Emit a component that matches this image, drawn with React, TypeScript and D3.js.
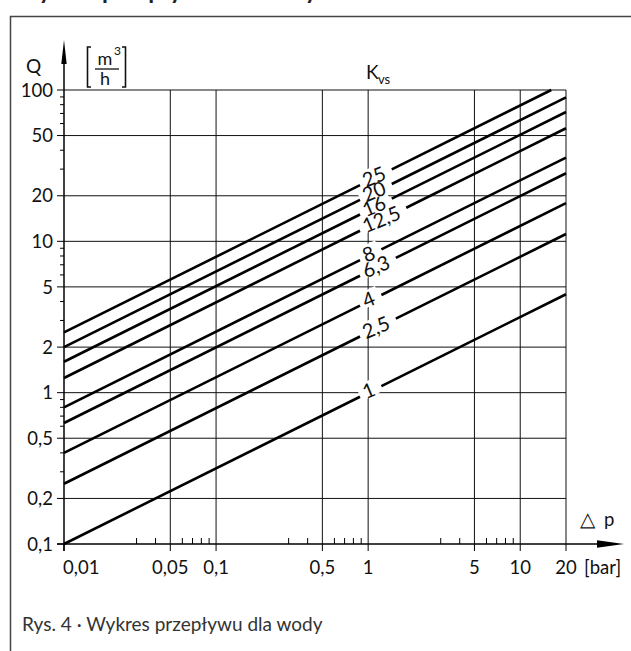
import React, { useEffect, useRef } from 'react';
import * as d3 from 'd3';

// Kvs lines, Q = Kvs * sqrt(dp)
const kvsValues = [1, 2.5, 4, 6.3, 8, 12.5, 16, 20, 25];
const kvsLabels = ['1', '2,5', '4', '6,3', '8', '12,5', '16', '20', '25'];

const xTicks = [0.01, 0.05, 0.1, 0.5, 1, 5, 10, 20];
const xTickLabels = ['0,01', '0,05', '0,1', '0,5', '1', '5', '10', '20'];
const yTicks = [0.1, 0.2, 0.5, 1, 2, 5, 10, 20, 50, 100];
const yTickLabels = ['0,1', '0,2', '0,5', '1', '2', '5', '10', '20', '50', '100'];
const minorSteps = [3, 4, 6, 7, 8, 9];
const decades = [0.01, 0.1, 1, 10, 100];

const FONT = 'Lato, "Noto Sans", sans-serif';

function App() {
  const ref = useRef<SVGSVGElement | null>(null);

  useEffect(() => {
    const svg = d3.select(ref.current);
    svg.selectAll('*').remove();

    const x = d3.scaleLog().domain([0.01, 20]).range([64, 566]);
    const y = d3.scaleLog().domain([0.1, 100]).range([544, 90]);
    const angle = (Math.atan2(y(10) - y(1), x(100) - x(1)) * 180) / Math.PI;
    const rad = (angle * Math.PI) / 180;

    // frame
    svg.append('path')
      .attr('d', 'M10.5,651 V16.5 H631')
      .attr('fill', 'none')
      .attr('stroke', '#444')
      .attr('stroke-width', 1.5);

    // heading, cut off at the top like the scan (only descenders show)
    svg.append('text')
      .attr('x', 14).attr('y', -1)
      .attr('font-family', FONT).attr('font-weight', 'bold').attr('font-size', 24)
      .attr('fill', '#222')
      .text('Wykres przepływu dla wody');

    const grid = svg.append('g').attr('stroke', '#111').attr('stroke-width', 1);
    yTicks.slice(1).forEach(v => {
      grid.append('line').attr('x1', 64).attr('x2', 566).attr('y1', y(v)).attr('y2', y(v));
    });
    xTicks.slice(1).forEach(v => {
      grid.append('line').attr('x1', x(v)).attr('x2', x(v)).attr('y1', 90).attr('y2', 544);
    });

    const labelG = svg.append('g');
    const bgG = svg.insert('g', () => labelG.node());
    const curveG = svg.insert('g', () => labelG.node());

    kvsValues.forEach((k, i) => {
      const x0 = 364;
      const dp0 = x.invert(x0);
      const y0 = y(k * Math.sqrt(dp0));
      const t = labelG.append('text')
        .attr('transform', `translate(${x0},${y0}) rotate(${angle * 0.85})`)
        .attr('dy', -3)
        .attr('dominant-baseline', 'central')
        .attr('font-family', FONT).attr('font-size', 20)
        .attr('fill', '#111')
        .text(kvsLabels[i]);
      const w = (t.node() as SVGTextElement).getComputedTextLength();
      const gapStart = x0 - 4;
      const gapEnd = x0 + w * Math.cos(rad) + 7;

      bgG.append('rect')
        .attr('transform', `translate(${x0},${y0}) rotate(${angle})`)
        .attr('x', -4).attr('y', -11)
        .attr('width', w + 10).attr('height', 16)
        .attr('fill', '#fff');

      const dpEnd = Math.min(20, Math.pow(100 / k, 2));
      const segs: [number, number][] = [[0.01, x.invert(gapStart)], [x.invert(gapEnd), dpEnd]];
      segs.forEach(([a, b]) => {
        if (b <= a) return;
        curveG.append('line')
          .attr('x1', x(a)).attr('y1', y(k * Math.sqrt(a)))
          .attr('x2', x(b)).attr('y2', y(k * Math.sqrt(b)))
          .attr('stroke', '#000').attr('stroke-width', 2.6);
      });
    });

    // axes
    const axis = svg.append('g').attr('stroke', '#000').attr('stroke-width', 1.5);
    axis.append('line').attr('x1', 64).attr('x2', 64).attr('y1', 551).attr('y2', 55);
    axis.append('line').attr('x1', 57).attr('x2', 605).attr('y1', 544).attr('y2', 544);
    svg.append('path').attr('d', 'M64,40 L61.3,64 L66.7,64 Z').attr('fill', '#000');
    svg.append('path').attr('d', 'M624,544 L597,540.3 L597,547.7 Z').attr('fill', '#000');

    const ticks = svg.append('g').attr('stroke', '#000').attr('stroke-width', 1);
    yTicks.forEach(v => {
      ticks.append('line').attr('x1', 57).attr('x2', 64).attr('y1', y(v)).attr('y2', y(v));
    });
    xTicks.forEach(v => {
      ticks.append('line').attr('x1', x(v)).attr('x2', x(v)).attr('y1', 544).attr('y2', 551);
    });
    decades.forEach(d => {
      minorSteps.forEach(m => {
        const v = d * m;
        if (v > 0.1 && v < 100) {
          ticks.append('line').attr('x1', 60).attr('x2', 64).attr('y1', y(v)).attr('y2', y(v));
        }
        if (v > 0.01 && v < 20) {
          ticks.append('line').attr('x1', x(v)).attr('x2', x(v)).attr('y1', 538).attr('y2', 544);
        }
      });
    });

    const txt = svg.append('g').attr('font-family', FONT).attr('font-size', 18.5).attr('fill', '#111');
    yTicks.forEach((v, i) => {
      txt.append('text').attr('x', 53).attr('y', y(v)).attr('dy', '0.36em')
        .attr('text-anchor', 'end').text(yTickLabels[i]);
    });
    xTicks.forEach((v, i) => {
      txt.append('text').attr('x', i === 0 ? 63 : x(v)).attr('y', 574)
        .attr('text-anchor', i === 0 ? 'start' : 'middle').text(xTickLabels[i]);
    });
    txt.append('text').attr('x', 584).attr('y', 574).text('[bar]');
    txt.append('text').attr('x', 580).attr('y', 526).attr('font-size', 20).text('△');
    txt.append('text').attr('x', 604).attr('y', 526).text('p');
    txt.append('text').attr('x', 26).attr('y', 73).attr('font-size', 19).text('Q');

    // unit [m3/h]
    const unit = svg.append('g').attr('font-family', FONT).attr('fill', '#111');
    unit.append('text').attr('x', 105).attr('y', 65).attr('text-anchor', 'middle').attr('font-size', 18).text('m');
    unit.append('text').attr('x', 114).attr('y', 55).attr('font-size', 12).text('3');
    unit.append('text').attr('x', 105).attr('y', 85).attr('text-anchor', 'middle').attr('font-size', 18).text('h');
    unit.append('line').attr('x1', 95).attr('x2', 119).attr('y1', 69).attr('y2', 69).attr('stroke', '#111').attr('stroke-width', 1.3);
    unit.append('path').attr('d', 'M91,47 H87.5 V87 H91').attr('fill', 'none').attr('stroke', '#111').attr('stroke-width', 1.6);
    unit.append('path').attr('d', 'M122,47 H125.5 V87 H122').attr('fill', 'none').attr('stroke', '#111').attr('stroke-width', 1.6);

    // Kvs title
    unit.append('text').attr('x', 366).attr('y', 79).attr('font-size', 19).text('K');
    unit.append('text').attr('x', 378).attr('y', 84).attr('font-size', 13).text('vs');

    // caption
    svg.append('text')
      .attr('x', 22).attr('y', 631)
      .attr('font-family', FONT).attr('font-size', 19).attr('fill', '#333')
      .text('Rys. 4 · Wykres przepływu dla wody');
  }, []);

  return (
    <svg ref={ref} width={631} height={651} style={{ position: 'absolute', left: 0, top: 0, background: '#fff' }} />
  );
}

export default App;
